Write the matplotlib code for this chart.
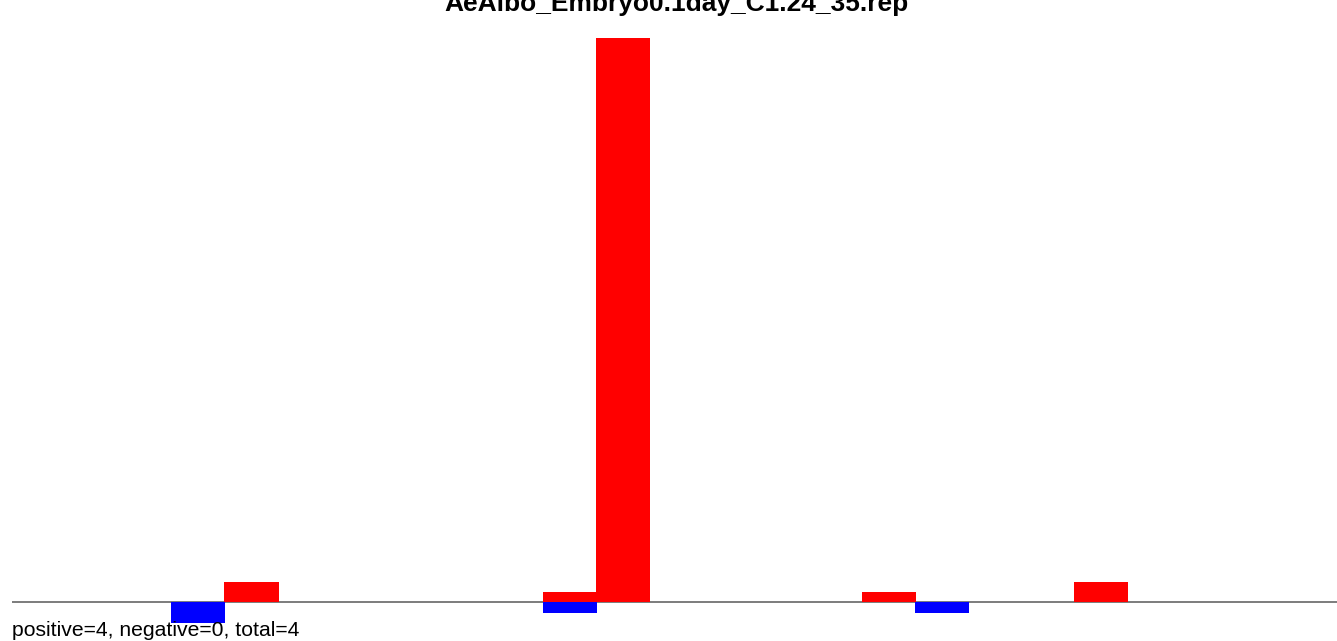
import matplotlib.pyplot as plt

# positions (bin index) and counts
pos_x = [4, 10, 11, 16, 20]
pos_val = [2, 1, 54, 1, 2]
neg_x = [3, 10, 17]
neg_val = [-2, -1, -1]

title = "AeAlbo_Embryo0.1day_C1.24_35.rep"
footer = "positive=4, negative=0, total=4"

plt.rcParams['font.family'] = ['Liberation Sans', 'DejaVu Sans']

W, H = 1337, 641
fig = plt.figure(figsize=(W / 100, H / 100), dpi=100)

# axes: top edge at the tallest bar, baseline at ~602 px
px_per_unit = (602 - 38) / 54
ax = fig.add_axes([12 / W, 0, 1 - 12 / W, (H - 38) / H])
ax.set_xlim(0, 24.95)
ax.set_ylim(-(H - 602.5) / px_per_unit, 54)

ax.bar(pos_x, pos_val, width=1.02, align='edge', color='red', linewidth=0)
ax.bar(neg_x, neg_val, width=1.02, align='edge', color='blue', linewidth=0)
ax.axhline(0, color='#666666', linewidth=1.2, zorder=0)
ax.axis('off')

fig.text(676 / W, 1 - 11 / H, title, ha='center', va='baseline',
         fontsize=19, fontweight='bold')
fig.text(12 / W, 5 / H, footer, ha='left', va='baseline', fontsize=15.2)

fig.savefig('out.png', dpi=100)
